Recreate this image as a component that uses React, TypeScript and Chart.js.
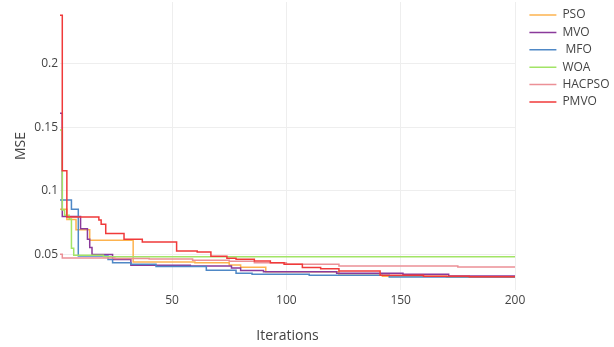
import React, { useEffect, useRef } from 'react';
import { Chart, registerables } from 'chart.js';

Chart.register(...registerables);

// ---- data (step points: iteration where the best MSE changes, and the new value) ----
const psoIter = [1, 4, 8, 14, 33, 60, 75, 80, 91, 123, 142, 170, 200];
const psoMSE = [0.0856, 0.0775, 0.0695, 0.0612, 0.0442, 0.0436, 0.0418, 0.04, 0.0366, 0.0338, 0.0331, 0.0324, 0.032];

const mvoIter = [1, 2, 10, 13, 14, 15, 24, 32, 58, 76, 80, 90, 122, 151, 171, 200];
const mvoMSE = [0.161, 0.08, 0.0704, 0.062, 0.0555, 0.05, 0.0461, 0.0416, 0.041, 0.0395, 0.0376, 0.0365, 0.0353, 0.0345, 0.0332, 0.0326];

const mfoIter = [1, 6, 9, 22, 24, 32, 43, 65, 78, 85, 110, 145, 200];
const mfoMSE = [0.093, 0.0856, 0.0489, 0.0462, 0.0437, 0.0424, 0.0406, 0.0377, 0.0353, 0.0345, 0.0338, 0.0325, 0.0322];

const woaIter = [1, 2, 3, 5, 6, 7, 20, 200];
const woaMSE = [0.148, 0.085, 0.081, 0.078, 0.055, 0.0495, 0.0483, 0.0481];

const hacIter = [1, 2, 25, 40, 59, 75, 86, 100, 123, 175, 200];
const hacMSE = [0.0502, 0.0474, 0.047, 0.0465, 0.0455, 0.0447, 0.0437, 0.0424, 0.0411, 0.0403, 0.0403];

const pmvoIter = [1, 2, 4, 18, 19, 21, 29, 37, 52, 61, 67, 74, 78, 86, 93, 99, 107, 115, 123, 141, 160, 180, 200];
const pmvoMSE = [0.238, 0.116, 0.0795, 0.0772, 0.0738, 0.0665, 0.062, 0.06, 0.0528, 0.052, 0.0487, 0.0471, 0.0463, 0.045, 0.0437, 0.0424, 0.0398, 0.0388, 0.0371, 0.0337, 0.033, 0.0326, 0.0323];

const seriesNames = ['PSO', 'MVO', ' MFO', 'WOA', 'HACPSO', 'PMVO'];
const seriesColors = ['#FDB34F', '#8A3A9B', '#4F88C6', '#A2E466', '#EC9096', '#F03A3A'];

const xTicks = [50, 100, 150, 200];
const yTicks = [0.05, 0.1, 0.15, 0.2];
const yTickLabels = ['0.05', '0.1', '0.15', '0.2'];

const FONT = 'Open Sans';
const TEXT = '#444';

const toPoints = (iters: number[], vals: number[]) => iters.map((x, i) => ({ x, y: vals[i] }));

const legendFix = {
  id: 'legendFix',
  beforeLayout(chart: any) {
    const lg = chart.legend;
    if (lg && !lg.__patched) {
      const orig = lg.fit;
      lg.fit = function () {
        orig.call(this);
        this.width = 99;
      };
      lg.__patched = true;
    }
  },
  afterLayout(chart: any) {
    const lg = chart.legend;
    if (lg) {
      lg.left += 9;
      lg.right += 9;
      lg.top += 1.6;
      lg.bottom += 1.6;
    }
  },
};

export default function App() {
  const ref = useRef<HTMLCanvasElement>(null);

  useEffect(() => {
    const canvas = ref.current;
    if (!canvas) return;
    const all = [
      [psoIter, psoMSE],
      [mvoIter, mvoMSE],
      [mfoIter, mfoMSE],
      [woaIter, woaMSE],
      [hacIter, hacMSE],
      [pmvoIter, pmvoMSE],
    ];
    const datasets = all.map(([it, v], i) => ({
      label: seriesNames[i],
      data: toPoints(it as number[], v as number[]),
      borderColor: seriesColors[i],
      backgroundColor: seriesColors[i],
      borderWidth: 1.5,
      pointRadius: 0,
      stepped: 'before' as const,
      fill: false,
      order: all.length - 1 - i,
    }));

    const chart = new Chart(canvas, {
      type: 'line',
      data: { datasets },
      options: {
        responsive: false,
        animation: false,
        layout: { padding: { top: 2, left: 0, right: 0, bottom: 0 } },
        plugins: {
          legend: {
            position: 'right',
            align: 'start',
            labels: {
              usePointStyle: true,
              pointStyle: 'line',
              pointStyleWidth: 27,
              padding: 5.4,
              color: TEXT,
              font: { family: FONT, size: 12 },
              sort: (a: any, b: any) => a.datasetIndex - b.datasetIndex,
            },
          },
          tooltip: { enabled: false },
        },
        scales: {
          x: {
            type: 'linear',
            min: 1,
            max: 200,
            afterBuildTicks: (s: any) => {
              s.ticks = xTicks.map((v) => ({ value: v }));
            },
            afterFit: (s: any) => {
              s.height = 57;
            },
            grid: { color: '#eeeeee', lineWidth: 1, drawTicks: false },
            border: { display: false },
            ticks: {
              padding: 3,
              color: TEXT,
              font: { family: FONT, size: 12 },
              maxRotation: 0,
              autoSkip: false,
              callback: (v: any) => String(v),
            },
            title: {
              display: true,
              text: 'Iterations',
              color: TEXT,
              font: { family: FONT, size: 14 },
              padding: { top: 0, bottom: 2.6 },
            },
          },
          y: {
            type: 'linear',
            min: 0.0222,
            max: 0.2485,
            afterBuildTicks: (s: any) => {
              s.ticks = yTicks.map((v) => ({ value: v }));
            },
            afterFit: (s: any) => {
              s.width = 60;
              s.paddingTop = 0;
              s.paddingBottom = 0;
            },
            grid: { color: '#eeeeee', lineWidth: 1, drawTicks: false },
            border: { display: false },
            ticks: {
              padding: 2,
              color: TEXT,
              font: { family: FONT, size: 12 },
              autoSkip: false,
              callback: (v: any) => {
                const k = yTicks.indexOf(v);
                return k >= 0 ? yTickLabels[k] : String(v);
              },
            },
            title: {
              display: true,
              text: 'MSE',
              color: TEXT,
              font: { family: FONT, size: 14 },
              padding: { top: 12.6, bottom: 0 },
            },
          },
        },
      },
      plugins: [legendFix],
    });
    return () => chart.destroy();
  }, []);

  return (
    <div style={{ position: 'fixed', left: 0, top: 0, width: 614, height: 347, background: '#fff' }}>
      <canvas ref={ref} width={614} height={347} style={{ display: 'block', width: 614, height: 347 }} />
    </div>
  );
}
